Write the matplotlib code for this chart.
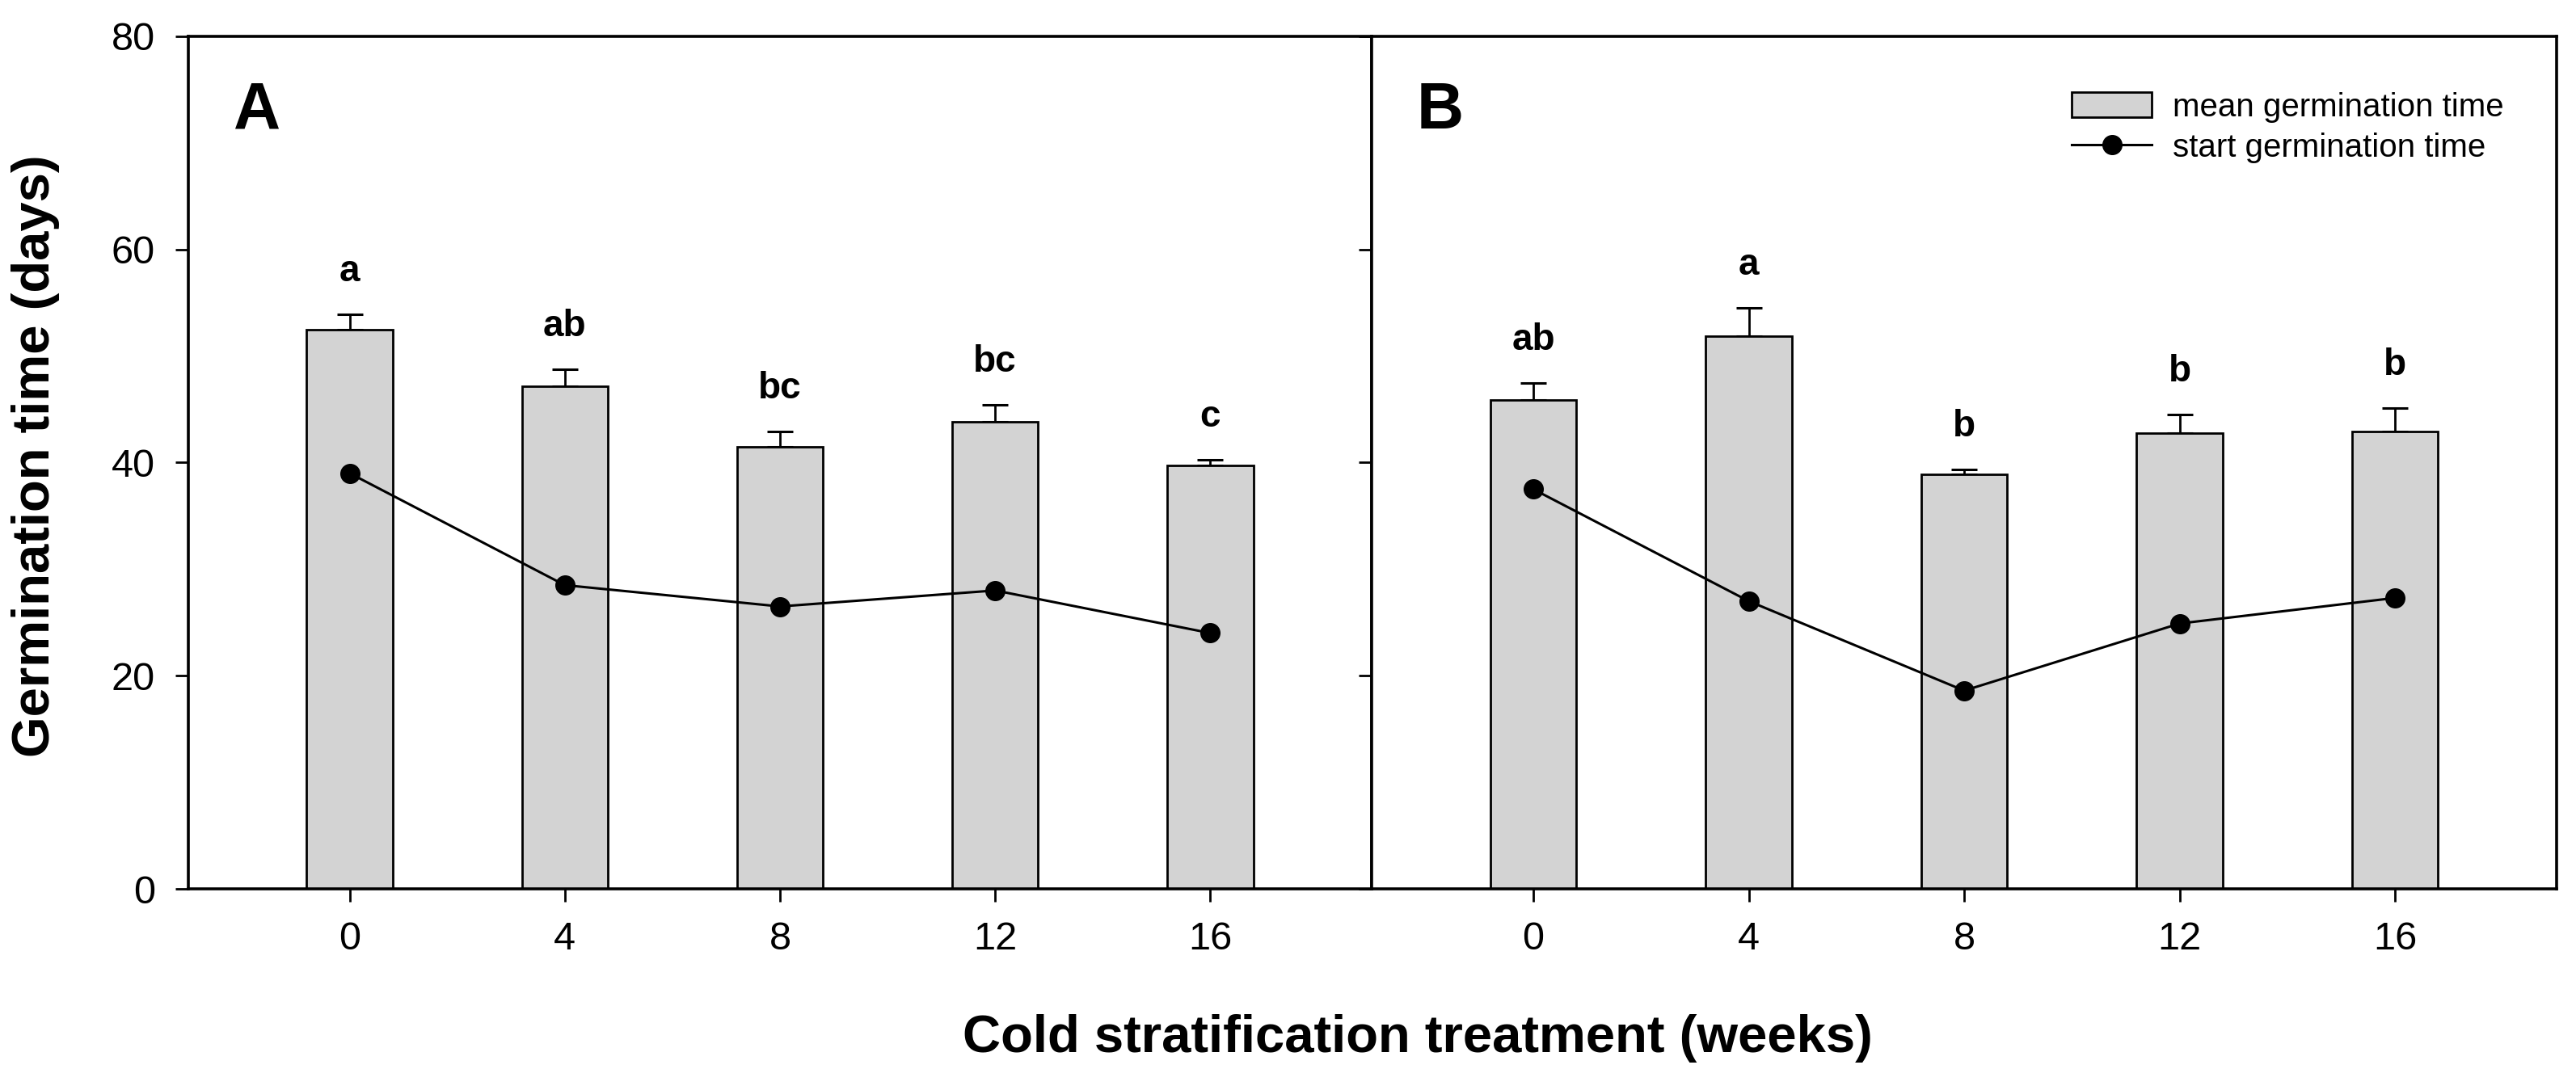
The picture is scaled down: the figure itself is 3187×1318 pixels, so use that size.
import numpy as np
import matplotlib
matplotlib.use("Agg")
import matplotlib.pyplot as plt

plt.rcParams['font.family'] = ['Liberation Sans', 'DejaVu Sans']

weeks = ['0', '4', '8', '12', '16']

# panel A
mean_a = [52.5, 47.2, 41.5, 43.8, 39.7]
err_a = [1.4, 1.55, 1.4, 1.6, 0.55]
start_a = [39.0, 28.5, 26.5, 28.0, 24.0]
letters_a = ['a', 'ab', 'bc', 'bc', 'c']

# panel B
mean_b = [45.9, 51.85, 38.9, 42.8, 42.9]
err_b = [1.6, 2.65, 0.45, 1.7, 2.2]
start_b = [37.5, 27.0, 18.6, 24.9, 27.3]
letters_b = ['ab', 'a', 'b', 'b', 'b']

fig = plt.figure(figsize=(31.87, 13.18), dpi=100)
ax_a = fig.add_axes([0.0731, 0.1654, 0.5325 - 0.0731, 0.8005])
ax_b = fig.add_axes([0.5325, 0.1654, 0.9925 - 0.5325, 0.8005])


def draw_panel(ax, mean, err, start, letters, label):
    x = np.arange(len(weeks))
    bars = ax.bar(x, mean, width=0.4, color='#d3d3d3', edgecolor='black',
                  linewidth=2, zorder=2, label='mean germination time')
    ax.errorbar(x, mean, yerr=[np.zeros(len(err)), err], fmt='none',
                ecolor='black', elinewidth=2, capsize=11.5, capthick=2.2,
                zorder=1)
    line, = ax.plot(x, start, color='black', linewidth=2.2, marker='o',
                    markersize=17, zorder=3, label='start germination time')
    for xi, m, e, t in zip(x, mean, err, letters):
        ax.text(xi, m + e + 3.1, t, ha='center', va='baseline',
                fontsize=33, fontweight='bold')
    ax.text(0.038, 0.892, label, transform=ax.transAxes, fontsize=58,
            fontweight='bold', va='baseline')
    ax.set_xticks(x)
    ax.set_xticklabels(weeks)
    ax.set_xlim(-0.75, 4.75)
    ax.set_ylim(0, 80)
    ax.set_yticks([0, 20, 40, 60, 80])
    for s in ax.spines.values():
        s.set_linewidth(2.6)
    ax.tick_params(axis='x', direction='out', length=11.5, width=2,
                   labelsize=35, pad=17)
    return bars, line


draw_panel(ax_a, mean_a, err_a, start_a, letters_a, 'A')
bars, line = draw_panel(ax_b, mean_b, err_b, start_b, letters_b, 'B')

ax_a.tick_params(axis='y', direction='out', length=11.5, width=2,
                 labelsize=35, pad=18)
ax_b.tick_params(axis='y', direction='out', length=11.5, width=2,
                 labelleft=False)

ax_b.legend(handles=[bars, line], loc='upper left',
            bbox_to_anchor=(0.591, 0.935), frameon=False, fontsize=29,
            borderpad=0, borderaxespad=0, handlelength=2.45,
            handleheight=0.8, handletextpad=0.65, labelspacing=0.3)

fig.text(0.0137, 0.572, 'Germination time (days)', rotation=90,
         ha='center', va='center', fontsize=47, fontweight='bold')
fig.text(0.5502, 0.0121, 'Cold stratification treatment (weeks)',
         ha='center', va='baseline', fontsize=47, fontweight='bold')

fig.savefig('out.png', dpi=100)
